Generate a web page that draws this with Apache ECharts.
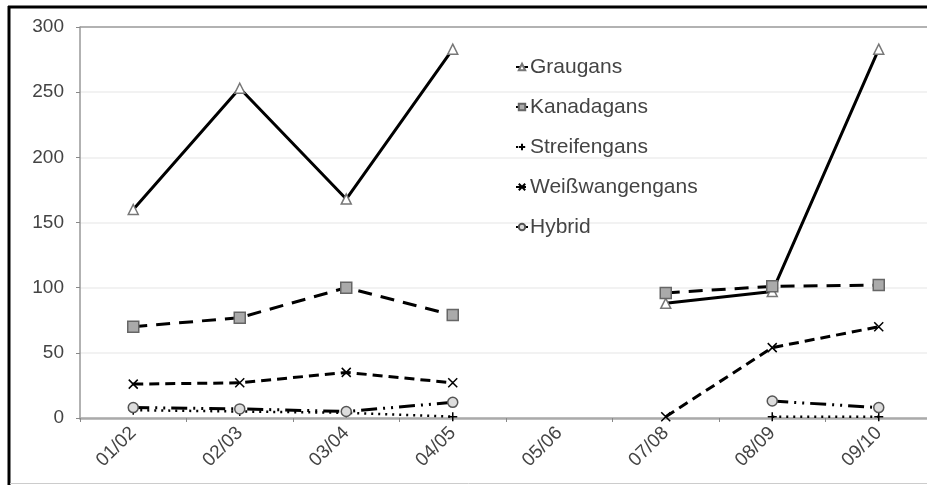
<!DOCTYPE html>
<html><head><meta charset="utf-8">
<script src="https://cdn.jsdelivr.net/npm/echarts@6/dist/echarts.min.js"></script>
<style>html,body{margin:0;padding:0;background:#fff;overflow:hidden;}#c{width:927px;height:485px;}</style>
</head><body><div id="c"></div>
<script>
const categories = ['01/02','02/03','03/04','04/05','05/06','07/08','08/09','09/10'];
const graugans = [160, 253, 168, 283, null, 88, 97, 283];
const kanadagans = [70, 77, 100, 79, null, 96, 101, 102];
const streifengans = [6, 5, 4, 1, null, null, 1, 1];
const weisswangengans = [26, 27, 35, 27, null, 1, 54, 70];
const hybrid = [8, 7, 5, 12, null, null, 13, 8];
const yTicks = {min: 0, max: 300, interval: 50};

const chart = echarts.init(document.getElementById('c'));
const font = '"Liberation Sans", Arial, sans-serif';
function s(name, data, symbol, size, fill, stroke, dash, width) {
  return {
    name, type: 'line', data, symbol, symbolSize: size, showSymbol: true,
    connectNulls: false, animation: false,
    itemStyle: {color: fill, borderColor: stroke, borderWidth: 1.5},
    lineStyle: {color: '#000', width: width, type: dash}
  };
}
chart.setOption({
  backgroundColor: '#fff',
  animation: false,
  grid: {left: 80, top: 27, height: 391, width: 852, outerBoundsMode: 'none', containLabel: false, show: false},
  graphic: [
    {type: 'line', shape: {x1: 9, y1: 6, x2: 9, y2: 485}, style: {stroke: '#000', lineWidth: 3}},
    {type: 'line', shape: {x1: 8, y1: 7, x2: 927, y2: 7}, style: {stroke: '#000', lineWidth: 3}},
    {type: 'line', shape: {x1: 10, y1: 483.5, x2: 927, y2: 483.5}, style: {stroke: '#ccc', lineWidth: 1}}
  ],
  legend: {
    orient: 'vertical', left: 510, top: 51, itemWidth: 12, itemHeight: 8, itemGap: 18,
    textStyle: {fontFamily: font, fontSize: 21, color: '#444', lineHeight: 22, padding: [0, 0, 0, -3]},
    data: ['Graugans','Kanadagans','Streifengans','Weißwangengans','Hybrid']
  },
  xAxis: {
    type: 'category', data: categories, boundaryGap: true,
    axisLine: {lineStyle: {color: '#aaa', width: 2.5}},
    axisTick: {show: true, length: 4, lineStyle: {color: '#888'}},
    axisLabel: {rotate: 45, fontFamily: font, fontSize: 19, color: '#444', margin: 12, interval: 0}
  },
  yAxis: {
    type: 'value', min: yTicks.min, max: yTicks.max, interval: yTicks.interval,
    axisLine: {show: true, lineStyle: {color: '#999', width: 1.5}},
    axisTick: {show: true, length: 4, lineStyle: {color: '#888'}},
    axisLabel: {fontFamily: font, fontSize: 19, color: '#444', margin: 16},
    splitLine: {lineStyle: {color: ['#eee','#eee','#eee','#eee','#eee','#eee','#999'], width: 1.5}}
  },
  series: [
    s('Graugans', graugans, 'triangle', 10, '#fff', '#777', 'solid', 3),
    s('Kanadagans', kanadagans, 'rect', 11, '#aaa', '#666', [14, 9], 3),
    s('Streifengans', streifengans, 'path://M5,0V10M0,5H10', 9, '#000', '#000', [2, 5], 2.5),
    s('Weißwangengans', weisswangengans, 'path://M0,0L10,10M10,0L0,10', 9, '#000', '#000', [10, 6], 3),
    s('Hybrid', hybrid, 'circle', 10, '#ddd', '#555', [16, 6, 2, 6, 2, 6], 3)
  ]
});
</script></body></html>
